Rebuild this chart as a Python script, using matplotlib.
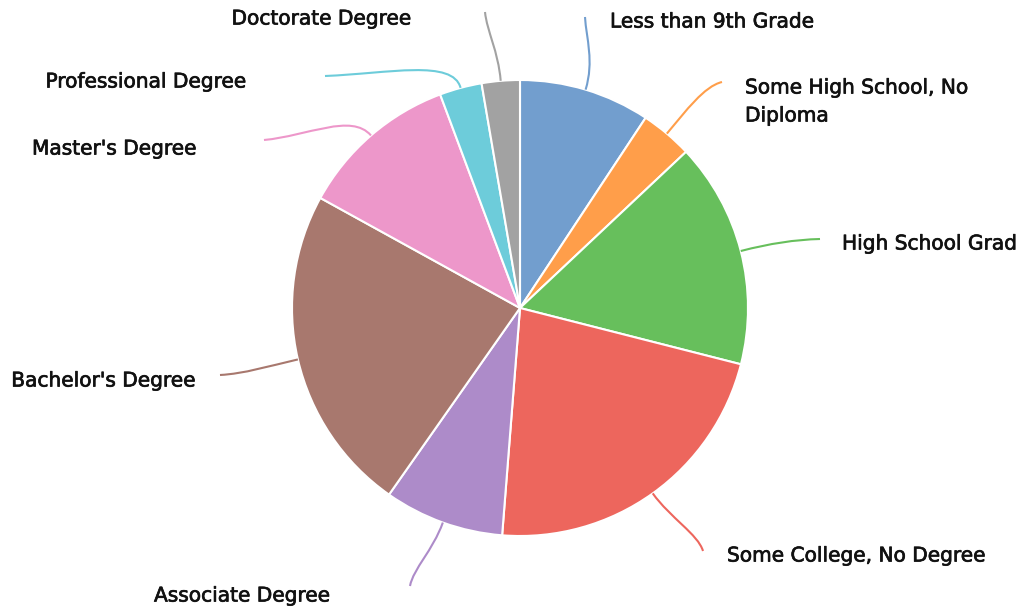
import numpy as np
import matplotlib.pyplot as plt
from matplotlib.path import Path
import matplotlib.patches as patches
import matplotlib.patheffects as pe

labels = ["Less than 9th Grade", "Some High School, No\nDiploma", "High School Grad",
          "Some College, No Degree", "Associate Degree", "Bachelor's Degree",
          "Master's Degree", "Professional Degree", "Doctorate Degree"]
shares = [9.3, 3.7, 16.0, 22.3, 8.5, 23.3, 11.3, 3.0, 2.7]
colors = ["#729ECE", "#FF9E4A", "#67BF5C", "#ED665D", "#AD8BC9",
          "#A8786E", "#ED97CA", "#6DCCDA", "#A2A2A2"]

W, H = 1029, 613
cx, cy, R = 520, H - 308, 228

# label layout in pixel coords (x, y from top, ha), and leader end points
text_pos = [(610, 22, 'left'), (745, 102, 'left'), (842, 244, 'left'),
            (727, 556, 'left'), (154, 596, 'left'), (196, 381, 'right'),
            (197, 149, 'right'), (247, 82, 'right'), (412, 19, 'right')]
leader_end = [(585, 17), (722, 82), (820, 239), (703, 551), (410, 586),
              (220, 375), (264, 140), (325, 76), (485, 12)]

fig = plt.figure(figsize=(W / 100, H / 100), dpi=100)
ax = fig.add_axes([0, 0, 1, 1])

wedges, _ = ax.pie(shares, colors=colors, startangle=90, counterclock=False,
                   center=(cx, cy), radius=R, frame=True,
                   wedgeprops=dict(edgecolor='white', linewidth=1.5))
ax.set_xlim(0, W)
ax.set_ylim(0, H)
ax.axis('off')

for w, lab, col, (tx, ty, ha), (ex, ey) in zip(wedges, labels, colors, text_pos, leader_end):
    mid = np.deg2rad((w.theta1 + w.theta2) / 2)
    ux, uy = np.cos(mid), np.sin(mid)
    p0 = (cx + R * ux, cy + R * uy)
    p1 = (cx + (R + 30) * ux, cy + (R + 30) * uy)
    ey = H - ey
    dx, dy = p1[0] - ex, p1[1] - ey
    if abs(dx) > abs(dy):
        p2 = (ex + dx * 0.5, ey + dy * 0.15)
    else:
        p2 = (ex + dx * 0.15, ey + dy * 0.5)
    path = Path([p0, p1, p2, (ex, ey)], [Path.MOVETO, Path.CURVE4, Path.CURVE4, Path.CURVE4])
    ax.add_patch(patches.PathPatch(path, fc='none', ec=col, lw=1.5))
    ax.text(tx, H - ty, lab, ha=ha, va='center', fontsize=14.5, color='#111111',
            linespacing=1.6,
            path_effects=[pe.withStroke(linewidth=0.5, foreground='#111111')])

fig.savefig('out.png', dpi=100, facecolor='white')
